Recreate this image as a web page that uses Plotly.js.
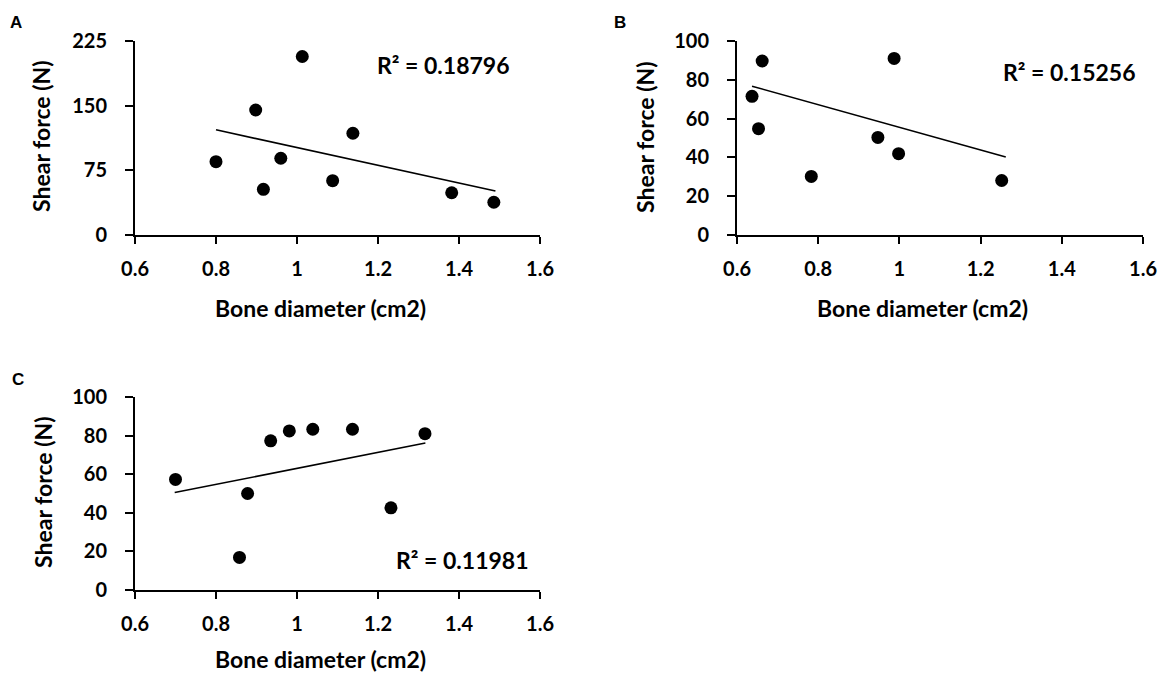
<!DOCTYPE html>
<html>
<head>
<meta charset="utf-8">
<script src="https://cdn.plot.ly/plotly-3.0.1.min.js"></script>
<style>html,body{margin:0;padding:0;background:#fff;}#chart{width:1161px;height:675px;}</style>
</head>
<body>
<div id="chart"></div>
<script>
// ---- data ----
const panelLabels = ["A", "B", "C"];
const xTitle = "Bone diameter (cm2)";
const yTitle = "Shear force (N)";
const xTickVals = [0.6, 0.8, 1, 1.2, 1.4, 1.6];
const xTickText = ["0.6", "0.8", "1", "1.2", "1.4", "1.6"];
const yTickValsA = [0, 75, 150, 225];
const yTickTextA = ["0", "75", "150", "225"];
const yTickValsBC = [0, 20, 40, 60, 80, 100];
const yTickTextBC = ["0", "20", "40", "60", "80", "100"];

const diamA = [0.80, 0.898, 0.917, 0.960, 1.013, 1.088, 1.138, 1.382, 1.486];
const forceA = [85, 145, 53, 89, 207, 63, 118, 49, 38];
const trendXA = [0.80, 1.49];
const trendYA = [122, 51];
const r2A = "R² = 0.18796";

const diamB = [0.637, 0.653, 0.662, 0.783, 0.947, 0.987, 0.998, 1.252];
const forceB = [71.5, 54.8, 89.7, 30.2, 50.3, 91, 41.9, 28.1];
const trendXB = [0.637, 1.262];
const trendYB = [76.7, 40.2];
const r2B = "R² = 0.15256";

const diamC = [0.70, 0.858, 0.878, 0.935, 0.981, 1.039, 1.137, 1.232, 1.316];
const forceC = [57.3, 16.9, 50, 77.3, 82.4, 83.3, 83.3, 42.6, 81];
const trendXC = [0.698, 1.317];
const trendYC = [50.5, 76.2];
const r2C = "R² = 0.11981";

// ---- styling ----
const FONT = "Lato, 'DejaVu Sans', sans-serif";
const W = 1161, H = 675;
const px = v => v / W;          // x pixel -> paper
const py = v => 1 - v / H;      // y pixel -> paper

function scatter(x, y, xa, ya) {
  return {x: x, y: y, xaxis: xa, yaxis: ya, type: "scatter", mode: "markers",
          marker: {color: "#000", size: 13}, hoverinfo: "x+y", showlegend: false};
}
function trend(x, y, xa, ya) {
  return {x: x, y: y, xaxis: xa, yaxis: ya, type: "scatter", mode: "lines",
          line: {color: "#000", width: 1.6}, hoverinfo: "skip", showlegend: false};
}

const data = [
  trend(trendXA, trendYA, "x", "y"), scatter(diamA, forceA, "x", "y"),
  trend(trendXB, trendYB, "x2", "y2"), scatter(diamB, forceB, "x2", "y2"),
  trend(trendXC, trendYC, "x3", "y3"), scatter(diamC, forceC, "x3", "y3")
];

const tickFont = {family: FONT, size: 20, color: "#000", weight: 700};
function xAxis(dom, anchor) {
  return {domain: dom, anchor: anchor, range: [0.6, 1.6], tickvals: xTickVals, ticktext: xTickText,
          showgrid: false, zeroline: false, showline: true, linecolor: "#000", linewidth: 2,
          ticks: "outside", ticklen: 7, tickwidth: 2, tickcolor: "#000",
          ticklabelstandoff: 8, tickfont: tickFont, fixedrange: true};
}
function yAxis(dom, anchor, max, vals, text) {
  return {domain: dom, anchor: anchor, range: [0, max], tickvals: vals, ticktext: text,
          showgrid: false, zeroline: false, showline: true, linecolor: "#000", linewidth: 2,
          ticks: "outside", ticklen: 8, tickwidth: 2, tickcolor: "#000",
          ticklabelstandoff: 14, tickfont: tickFont, fixedrange: true};
}

const domXA = [px(135), px(540)], domXB = [px(737), px(1143)], domXC = [px(135), px(540)];
const domYTop = [py(235), py(41)], domYC = [py(590), py(397)];

const titleFont = {family: FONT, size: 23, color: "#000", weight: 700};
const r2Font = {family: FONT, size: 23, color: "#000", weight: 700};
const letterFont = {family: "'Liberation Sans', Arial, sans-serif", size: 17, color: "#000", weight: 700};

function ann(text, x, y, font, angle) {
  return {text: text, xref: "paper", yref: "paper", x: px(x), y: py(y),
          xanchor: "center", yanchor: "middle", showarrow: false, font: font, textangle: angle || 0};
}

const annotations = [
  ann(panelLabels[0], 16, 22, letterFont), ann(panelLabels[1], 620, 22, letterFont), ann(panelLabels[2], 18, 379, letterFont),
  ann(yTitle, 41, 136, titleFont, -90), ann(yTitle, 645, 137, titleFont, -90), ann(yTitle, 43, 492, titleFont, -90),
  ann(xTitle, 321, 308, titleFont), ann(xTitle, 922, 308, titleFont), ann(xTitle, 321, 659, titleFont),
  ann(r2A, 443, 65, r2Font), ann(r2B, 1069, 72, r2Font), ann(r2C, 462, 560, r2Font)
];

const layout = {
  width: W, height: H, margin: {l: 0, r: 0, t: 0, b: 0},
  paper_bgcolor: "#fff", plot_bgcolor: "#fff", showlegend: false,
  xaxis: xAxis(domXA, "y"), yaxis: yAxis(domYTop, "x", 225, yTickValsA, yTickTextA),
  xaxis2: xAxis(domXB, "y2"), yaxis2: yAxis(domYTop, "x2", 100, yTickValsBC, yTickTextBC),
  xaxis3: xAxis(domXC, "y3"), yaxis3: yAxis(domYC, "x3", 100, yTickValsBC, yTickTextBC),
  annotations: annotations
};

Plotly.newPlot("chart", data, layout, {displayModeBar: false, staticPlot: false});
</script>
</body>
</html>
